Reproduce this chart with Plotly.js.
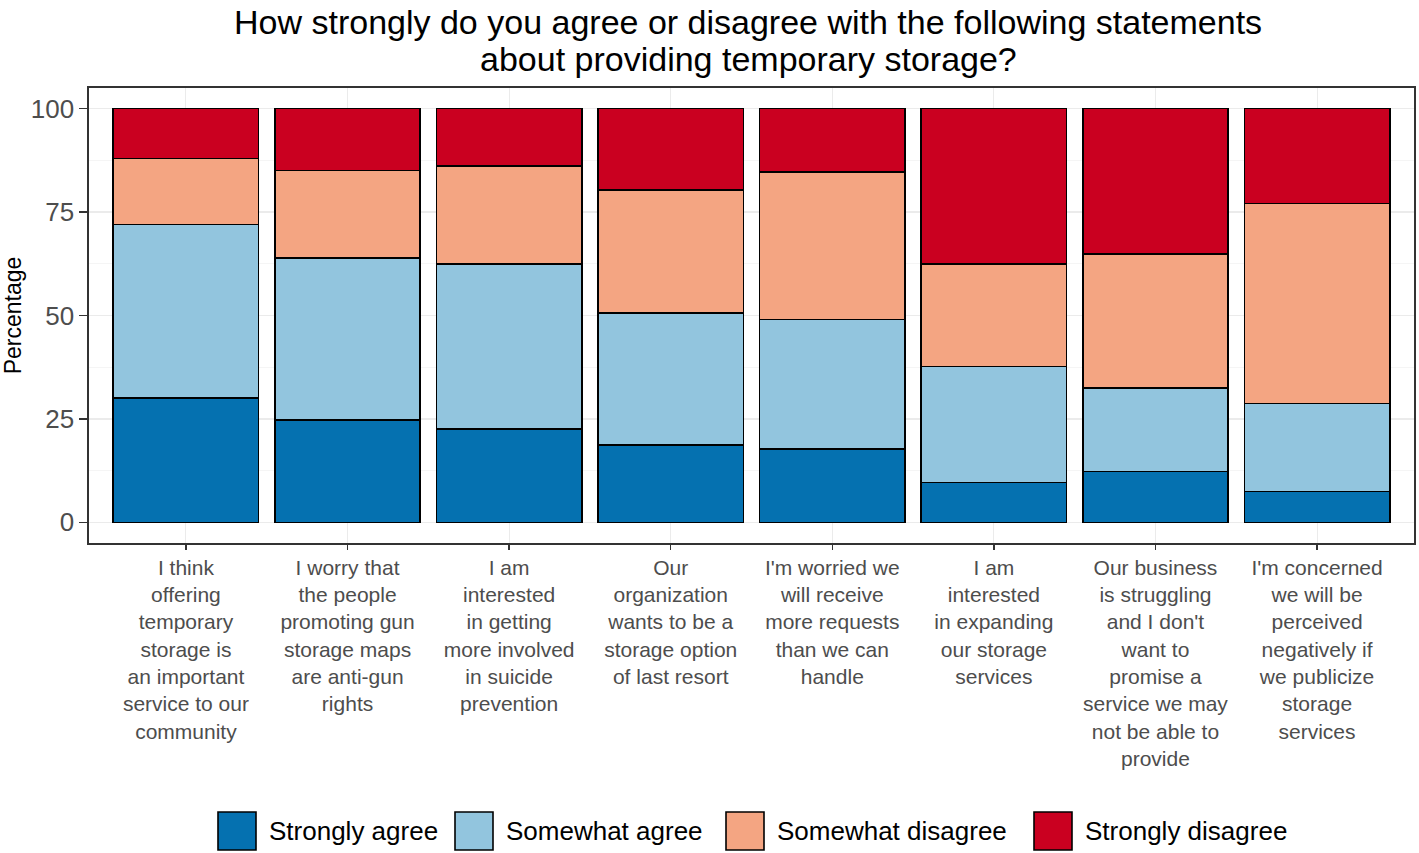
<!DOCTYPE html>
<html>
<head>
<meta charset="utf-8">
<script src="https://cdn.plot.ly/plotly-3.0.1.min.js"></script>
<style>html,body{margin:0;padding:0;background:#fff;}#chart{width:1419px;height:853px;}</style>
</head>
<body>
<div id="chart"></div>
<script>
const categories = [
  "I think<br>offering<br>temporary<br>storage is<br>an important<br>service to our<br>community",
  "I worry that<br>the people<br>promoting gun<br>storage maps<br>are anti-gun<br>rights",
  "I am<br>interested<br>in getting<br>more involved<br>in suicide<br>prevention",
  "Our<br>organization<br>wants to be a<br>storage option<br>of last resort",
  "I'm worried we<br>will receive<br>more requests<br>than we can<br>handle",
  "I am<br>interested<br>in expanding<br>our storage<br>services",
  "Our business<br>is struggling<br>and I don't<br>want to<br>promise a<br>service we may<br>not be able to<br>provide",
  "I'm concerned<br>we will be<br>perceived<br>negatively if<br>we publicize<br>storage<br>services"
];
const seriesNames = ["Strongly agree", "Somewhat agree", "Somewhat disagree", "Strongly disagree"];
const seriesColors = ["#0571b0", "#92c5de", "#f4a582", "#ca0020"];
const stronglyAgree    = [30.0, 24.7, 22.5, 18.7, 17.7,  9.6, 12.3,  7.5];
const somewhatAgree    = [42.0, 39.2, 39.9, 31.9, 31.3, 28.1, 20.2, 21.2];
const somewhatDisagree = [16.0, 21.2, 23.7, 29.7, 35.7, 24.7, 32.4, 48.4];
const stronglyDisagree = [12.0, 14.9, 13.9, 19.7, 15.3, 37.6, 35.1, 22.9];
const yTicks = [0, 25, 50, 75, 100];
const titleLines = [
  "How strongly do you agree or disagree with the following statements",
  "about providing temporary storage?"
];

const seriesValues = [stronglyAgree, somewhatAgree, somewhatDisagree, stronglyDisagree];
const FONT = "Arial, 'Liberation Sans', sans-serif";

const traces = seriesValues.map((vals, i) => ({
  type: "bar",
  name: seriesNames[i],
  x: categories,
  y: vals,
  marker: {color: seriesColors[i], line: {color: "#000000", width: 1.6}},
  width: 0.9,
  showlegend: false,
  hoverinfo: "x+y+name"
}));

// plot geometry (pixels) for custom legend and title placement
const W = 1419, H = 853;
const M = {l: 89, r: 5, t: 88, b: 310};
const pw = W - M.l - M.r, ph = H - M.t - M.b;
const px2x = p => (p - M.l) / pw;
const py2y = p => (H - M.b - p) / ph;

const keyLeft = [218, 455, 726, 1034];
const keySize = 38;
const keyCenterY = 831;
const shapes = [];
const annotations = [];
seriesNames.forEach((nm, i) => {
  shapes.push({
    type: "rect", xref: "paper", yref: "paper",
    x0: px2x(keyLeft[i]), x1: px2x(keyLeft[i] + keySize),
    y0: py2y(keyCenterY + keySize / 2), y1: py2y(keyCenterY - keySize / 2),
    fillcolor: seriesColors[i], line: {color: "#000000", width: 1.6}
  });
  annotations.push({
    xref: "paper", yref: "paper",
    x: px2x(keyLeft[i] + keySize + 11), y: py2y(keyCenterY),
    xanchor: "left", yanchor: "middle", showarrow: false,
    text: nm, font: {family: FONT, size: 26, color: "#000000"}
  });
});

const titleCenters = [22, 59];
titleLines.forEach((t, i) => {
  annotations.push({
    xref: "paper", yref: "paper",
    x: px2x(748), y: py2y(titleCenters[i]),
    xanchor: "center", yanchor: "middle", showarrow: false,
    text: t, font: {family: FONT, size: 34, color: "#000000"}
  });
});

const layout = {
  width: W, height: H,
  margin: M,
  paper_bgcolor: "#ffffff",
  plot_bgcolor: "#ffffff",
  barmode: "stack",
  bargap: 0.1,
  xaxis: {
    type: "category",
    range: [-0.6, 7.6],
    showgrid: true, gridcolor: "#ebebeb", gridwidth: 1,
    showline: true, linecolor: "#333333", linewidth: 1.6, mirror: true,
    ticks: "outside", ticklen: 5, tickcolor: "#333333", tickwidth: 1.3,
    tickfont: {family: FONT, size: 21, color: "#4d4d4d"},
    tickangle: 0,
    automargin: false,
    zeroline: false
  },
  yaxis: {
    range: [-5, 105],
    tickvals: yTicks,
    ticktext: yTicks.map(String),
    showgrid: true, gridcolor: "#ebebeb", gridwidth: 1.2,
    minor: {dtick: 12.5, tick0: 0, showgrid: true, gridcolor: "#f3f3f3", gridwidth: 0.8, ticks: ""},
    showline: true, linecolor: "#333333", linewidth: 1.6, mirror: true,
    ticks: "outside", ticklen: 8, tickcolor: "#333333", tickwidth: 1.3,
    tickfont: {family: FONT, size: 26, color: "#4d4d4d"},
    zeroline: false,
    automargin: false,
    title: {text: "Percentage", font: {family: FONT, size: 23, color: "#000000"}, standoff: 8}
  },
  shapes: shapes,
  annotations: annotations,
  showlegend: false
};

Plotly.newPlot("chart", traces, layout, {displayModeBar: false, staticPlot: true});
</script>
</body>
</html>
